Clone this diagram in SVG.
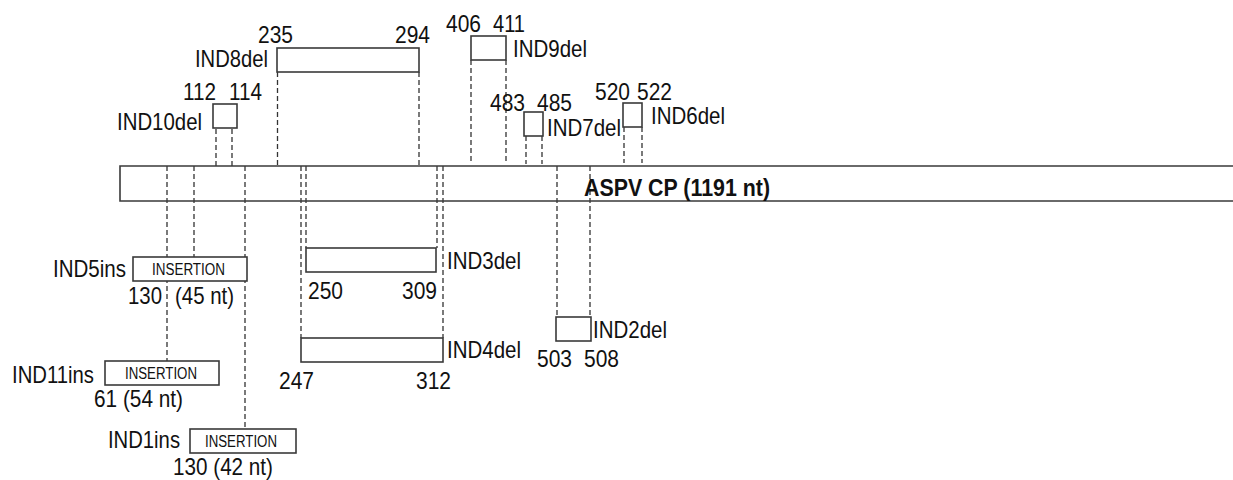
<svg xmlns="http://www.w3.org/2000/svg" width="1233" height="480" viewBox="0 0 1233 480">
<style>
text{font-family:"Liberation Sans",Arial,sans-serif;fill:#111;font-size:24px}
.box{fill:#fff;stroke:#3a3a3a;stroke-width:1.6}
.dash{stroke:#333;stroke-width:1.3;stroke-dasharray:5 3;fill:none}
.ins{font-size:16px}
.end{text-anchor:end}
.bold{font-weight:bold}
</style>
<rect width="1233" height="480" fill="#fff"/>
<g id="connectors">
<line class="dash" x1="216" y1="129" x2="216" y2="166"/>
<line class="dash" x1="232" y1="129" x2="232" y2="166"/>
<line class="dash" x1="277.5" y1="72" x2="277.5" y2="166"/>
<line class="dash" x1="419" y1="72" x2="419" y2="166"/>
<line class="dash" x1="471" y1="60" x2="471" y2="161"/>
<line class="dash" x1="506" y1="60" x2="506" y2="161"/>
<line class="dash" x1="526" y1="136" x2="526" y2="164"/>
<line class="dash" x1="542" y1="136" x2="542" y2="164"/>
<line class="dash" x1="624" y1="127" x2="624" y2="163"/>
<line class="dash" x1="642" y1="127" x2="642" y2="163"/>
<line class="dash" x1="167" y1="166" x2="167" y2="361"/>
<line class="dash" x1="194" y1="166" x2="194" y2="257"/>
<line class="dash" x1="245" y1="166" x2="245" y2="429"/>
<line class="dash" x1="301" y1="166" x2="301" y2="338"/>
<line class="dash" x1="306" y1="166" x2="306" y2="248"/>
<line class="dash" x1="437" y1="166" x2="437" y2="248"/>
<line class="dash" x1="443" y1="166" x2="443" y2="338"/>
<line class="dash" x1="557" y1="166" x2="557" y2="317"/>
<line class="dash" x1="590" y1="166" x2="590" y2="317"/>
</g>
<g id="aspv-cp">
<path d="M1240 166 H120 V201 H1240" fill="none" stroke="#3a3a3a" stroke-width="1.6"/>
<text class="bold" x="584" y="196" textLength="186" lengthAdjust="spacingAndGlyphs">ASPV CP (1191 nt)</text>
</g>
<g id="ind8del">
<rect class="box" x="277" y="48" width="142" height="24"/>
<text class="end" x="268" y="67" textLength="73" lengthAdjust="spacingAndGlyphs">IND8del</text>
<text x="258" y="43" textLength="35" lengthAdjust="spacingAndGlyphs">235</text>
<text x="395" y="43" textLength="35" lengthAdjust="spacingAndGlyphs">294</text>
</g>
<g id="ind10del">
<rect class="box" x="213" y="104" width="24" height="24"/>
<text class="end" x="202" y="130" textLength="85" lengthAdjust="spacingAndGlyphs">IND10del</text>
<text x="183" y="100" textLength="33" lengthAdjust="spacingAndGlyphs">112</text>
<text x="229" y="100" textLength="33" lengthAdjust="spacingAndGlyphs">114</text>
</g>
<g id="ind9del">
<rect class="box" x="471" y="36" width="35" height="24"/>
<text x="513" y="57" textLength="74" lengthAdjust="spacingAndGlyphs">IND9del</text>
<text x="446" y="32" textLength="35" lengthAdjust="spacingAndGlyphs">406</text>
<text x="493" y="32" textLength="32" lengthAdjust="spacingAndGlyphs">411</text>
</g>
<g id="ind7del">
<rect class="box" x="524" y="112" width="19" height="24"/>
<text x="547" y="136" textLength="74" lengthAdjust="spacingAndGlyphs">IND7del</text>
<text x="490" y="111" textLength="35" lengthAdjust="spacingAndGlyphs">483</text>
<text x="537" y="111" textLength="35" lengthAdjust="spacingAndGlyphs">485</text>
</g>
<g id="ind6del">
<rect class="box" x="623" y="103" width="19" height="24"/>
<text x="651" y="124" textLength="74" lengthAdjust="spacingAndGlyphs">IND6del</text>
<text x="595" y="100" textLength="35" lengthAdjust="spacingAndGlyphs">520</text>
<text x="637" y="100" textLength="35" lengthAdjust="spacingAndGlyphs">522</text>
</g>
<g id="ind5ins">
<rect class="box" x="133" y="257" width="114" height="24"/>
<text class="ins" x="152" y="275" textLength="73" lengthAdjust="spacingAndGlyphs">INSERTION</text>
<text class="end" x="126" y="277" textLength="73" lengthAdjust="spacingAndGlyphs">IND5ins</text>
<text x="128" y="304" textLength="34" lengthAdjust="spacingAndGlyphs">130</text>
<text x="175" y="304" textLength="59" lengthAdjust="spacingAndGlyphs">(45 nt)</text>
</g>
<g id="ind11ins">
<rect class="box" x="105" y="361" width="114" height="24"/>
<text class="ins" x="125" y="379" textLength="72" lengthAdjust="spacingAndGlyphs">INSERTION</text>
<text class="end" x="94" y="383" textLength="82" lengthAdjust="spacingAndGlyphs">IND11ins</text>
<text x="94" y="407" textLength="89" lengthAdjust="spacingAndGlyphs">61 (54 nt)</text>
</g>
<g id="ind1ins">
<rect class="box" x="190" y="429" width="106" height="24"/>
<text class="ins" x="205" y="447" textLength="72" lengthAdjust="spacingAndGlyphs">INSERTION</text>
<text class="end" x="180" y="448" textLength="72" lengthAdjust="spacingAndGlyphs">IND1ins</text>
<text x="173" y="475" textLength="100" lengthAdjust="spacingAndGlyphs">130 (42 nt)</text>
</g>
<g id="ind3del">
<rect class="box" x="306" y="248" width="130" height="24"/>
<text x="447" y="269" textLength="74" lengthAdjust="spacingAndGlyphs">IND3del</text>
<text x="308" y="299" textLength="35" lengthAdjust="spacingAndGlyphs">250</text>
<text x="402" y="299" textLength="35" lengthAdjust="spacingAndGlyphs">309</text>
</g>
<g id="ind4del">
<rect class="box" x="301" y="338" width="142" height="24"/>
<text x="447" y="358" textLength="74" lengthAdjust="spacingAndGlyphs">IND4del</text>
<text x="279" y="389" textLength="35" lengthAdjust="spacingAndGlyphs">247</text>
<text x="416" y="389" textLength="35" lengthAdjust="spacingAndGlyphs">312</text>
</g>
<g id="ind2del">
<rect class="box" x="556" y="317" width="35" height="24"/>
<text x="593" y="338" textLength="74" lengthAdjust="spacingAndGlyphs">IND2del</text>
<text x="537" y="367" textLength="35" lengthAdjust="spacingAndGlyphs">503</text>
<text x="584" y="367" textLength="35" lengthAdjust="spacingAndGlyphs">508</text>
</g>
</svg>
